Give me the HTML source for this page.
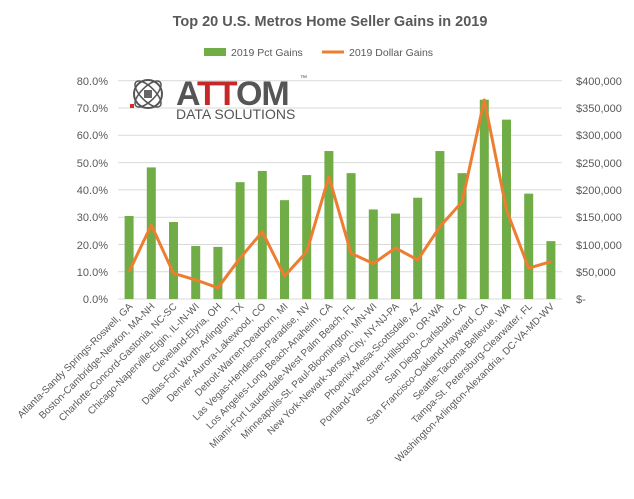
<!DOCTYPE html>
<html><head><meta charset="utf-8"><style>body{margin:0;background:#fff}svg{display:block}text{font-family:"Liberation Sans",sans-serif}</style></head><body>
<svg width="634" height="499" viewBox="0 0 634 499" xmlns="http://www.w3.org/2000/svg">
<rect width="634" height="499" fill="#fff"/>
<text x="330" y="26" font-size="14.5" font-weight="bold" fill="#595959" text-anchor="middle">Top 20 U.S. Metros Home Seller Gains in 2019</text>
<rect x="204" y="48" width="22" height="8" fill="#70ad47"/>
<text x="231" y="56" font-size="10.5" fill="#595959">2019 Pct Gains</text>
<line x1="322" y1="52" x2="344" y2="52" stroke="#ed7d31" stroke-width="3"/>
<text x="349" y="56" font-size="10.5" fill="#595959">2019 Dollar Gains</text>
<g stroke="#d9d9d9" stroke-width="1">
<line x1="118" x2="562" y1="80.7" y2="80.7"/><line x1="118" x2="562" y1="108" y2="108"/><line x1="118" x2="562" y1="135.3" y2="135.3"/><line x1="118" x2="562" y1="162.6" y2="162.6"/><line x1="118" x2="562" y1="189.9" y2="189.9"/><line x1="118" x2="562" y1="217.2" y2="217.2"/><line x1="118" x2="562" y1="244.5" y2="244.5"/><line x1="118" x2="562" y1="271.8" y2="271.8"/><line x1="118" x2="562" y1="299" y2="299"/>
</g>
<g font-size="11" fill="#595959" text-anchor="end">
<text x="108" y="85">80.0%</text><text x="108" y="112">70.0%</text><text x="108" y="139">60.0%</text><text x="108" y="167">50.0%</text><text x="108" y="194">40.0%</text><text x="108" y="221">30.0%</text><text x="108" y="249">20.0%</text><text x="108" y="276">10.0%</text><text x="108" y="303">0.0%</text>
</g>
<g font-size="11" fill="#595959">
<text x="576" y="85">$400,000</text><text x="576" y="112">$350,000</text><text x="576" y="139">$300,000</text><text x="576" y="167">$250,000</text><text x="576" y="194">$200,000</text><text x="576" y="221">$150,000</text><text x="576" y="249">$100,000</text><text x="576" y="276">$50,000</text><text x="576" y="303">$-</text>
</g>
<g>
<circle cx="148" cy="94" r="14" fill="none" stroke="#555" stroke-width="2"/>
<ellipse cx="148" cy="94" rx="17" ry="7" fill="none" stroke="#555" stroke-width="1.5" transform="rotate(45 148 94)"/>
<ellipse cx="148" cy="94" rx="17" ry="7" fill="none" stroke="#555" stroke-width="1.5" transform="rotate(-45 148 94)"/>
<rect x="144" y="90" width="8" height="8" fill="#666"/>
<rect x="130" y="104" width="4" height="4" fill="#d32f2f"/>
<text x="176" y="105" font-size="34" font-weight="bold" fill="#555" letter-spacing="-1">A<tspan fill="#c62828">TT</tspan>OM</text>
<text x="300" y="80" font-size="7" fill="#555">™</text>
<text x="176" y="119" font-size="14" fill="#555">DATA SOLUTIONS</text>
</g>
<g fill="#70ad47" id="bars"></g>
<polyline id="ln" fill="none" stroke="#ed7d31" stroke-width="3" stroke-linejoin="round"/>
<g id="lbl" font-size="10" fill="#595959"></g>
<script>
var pct=[30.4,48.2,28.2,19.4,19.1,42.8,46.9,36.2,45.4,54.2,46.1,32.8,31.3,37.1,54.2,46.1,73.0,65.7,38.6,21.2];
var ln=[10,27.1,9.4,7,4.1,15,24.6,8.4,17.3,44.8,16.7,13,18.7,14.3,26.5,35.6,72.9,32.6,11.3,13.7];
var names=["Atlanta-Sandy Springs-Roswell, GA","Boston-Cambridge-Newton, MA-NH","Charlotte-Concord-Gastonia, NC-SC","Chicago-Naperville-Elgin, IL-IN-WI","Cleveland-Elyria, OH","Dallas-Fort Worth-Arlington, TX","Denver-Aurora-Lakewood, CO","Detroit-Warren-Dearborn, MI","Las Vegas-Henderson-Paradise, NV","Los Angeles-Long Beach-Anaheim, CA","Miami-Fort Lauderdale-West Palm Beach, FL","Minneapolis-St. Paul-Bloomington, MN-WI","New York-Newark-Jersey City, NY-NJ-PA","Phoenix-Mesa-Scottsdale, AZ","Portland-Vancouver-Hillsboro, OR-WA","San Diego-Carlsbad, CA","San Francisco-Oakland-Hayward, CA","Seattle-Tacoma-Bellevue, WA","Tampa-St. Petersburg-Clearwater, FL","Washington-Arlington-Alexandria, DC-VA-MD-WV"];
var ns="http://www.w3.org/2000/svg",b=document.getElementById('bars'),l=document.getElementById('lbl'),pts=[];
function Y(v){return 299-v*2.73;}
for(var i=0;i<20;i++){var cx=118+22.2*(i+0.5);
var r=document.createElementNS(ns,'rect');r.setAttribute('x',cx-4.5);r.setAttribute('width',9);r.setAttribute('y',Y(pct[i]));r.setAttribute('height',pct[i]*2.73);b.appendChild(r);
pts.push(cx+','+Y(ln[i]));
var t=document.createElementNS(ns,'text');t.setAttribute('text-anchor','end');t.setAttribute('transform','translate('+(cx+4)+',307) rotate(-45)');t.textContent=names[i];l.appendChild(t);}
document.getElementById('ln').setAttribute('points',pts.join(' '));
</script>
</svg>
</body></html>
